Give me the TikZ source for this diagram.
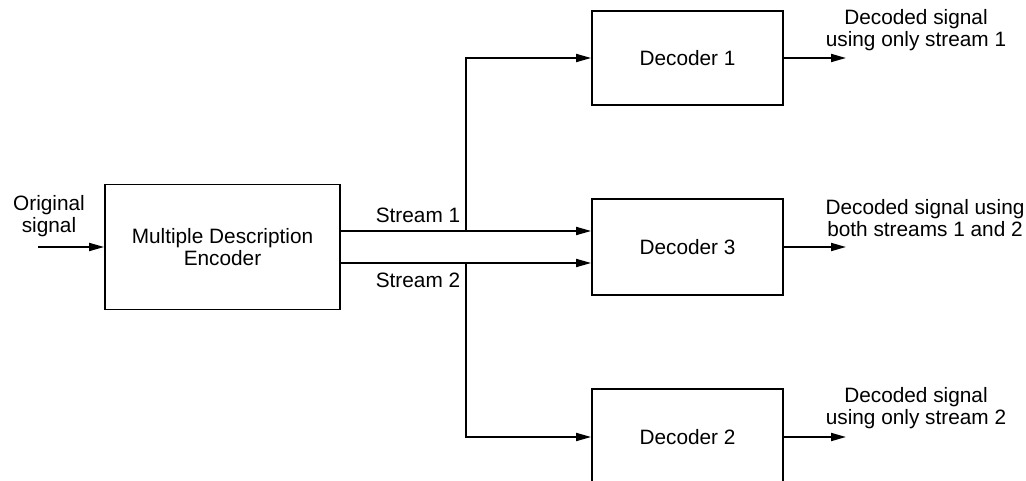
\documentclass[tikz,border=0pt]{standalone}
\usepackage{fontspec}
\setmainfont{Liberation Sans}
\usetikzlibrary{arrows.meta}
\tikzset{
  block/.style={draw, line width=1.8pt, rectangle, inner sep=0pt, align=center},
  lbl/.style={inner sep=0pt, align=center},
  arr/.style={line width=1.8pt, -{Triangle[length=15pt,width=8pt]}},
  wire/.style={line width=1.8pt}
}
\begin{document}
\begin{tikzpicture}[x=1pt,y=-1pt,
  every node/.append style={font=\fontsize{20.8}{22}\selectfont}]
\useasboundingbox (0,0) rectangle (1026,481);
\clip (0,0) rectangle (1026,481);

% blocks
\node[block, minimum width=235pt, minimum height=125pt] (enc) at (222.5,247)
  {Multiple Description\\Encoder};
\node[block, minimum width=191pt, minimum height=94pt] (dec1) at (687.5,58) {Decoder 1};
\node[block, minimum width=191pt, minimum height=96pt] (dec3) at (687.5,247) {Decoder 3};
\node[block, minimum width=191pt, minimum height=96pt] (dec2) at (687.5,437) {Decoder 2};

% junctions and free ends
\coordinate (j1) at (466,231);
\coordinate (j2) at (466,263);
\coordinate (in) at (38,247);
\coordinate (o1) at (846,58);
\coordinate (o3) at (846,247);
\coordinate (o2) at (846,437);

% input
\draw[arr] (in) -- (enc.west |- in);

% streams
\draw[arr] (enc.east |- j1) -- (dec3.west |- j1);
\draw[arr] (enc.east |- j2) -- (dec3.west |- j2);
\draw[arr] (j1) |- (dec1.west);
\draw[arr] (j2) |- (dec2.west);

% outputs
\draw[arr] (dec1.east) -- (o1);
\draw[arr] (dec3.east) -- (o3);
\draw[arr] (dec2.east) -- (o2);

% labels
\node[lbl] (orig) at (49,216) {Original\\signal};
\node[lbl] (s1) at (418,215) {Stream 1};
\node[lbl] (s2) at (418,280) {Stream 2};
\node[lbl] (out1) at (916,30) {Decoded signal\\using only stream 1};
\node[lbl] (out3) at (925,218) {Decoded signal using\\both streams 1 and 2};
\node[lbl] (out2) at (916,408) {Decoded signal\\using only stream 2};
\end{tikzpicture}
\end{document}
